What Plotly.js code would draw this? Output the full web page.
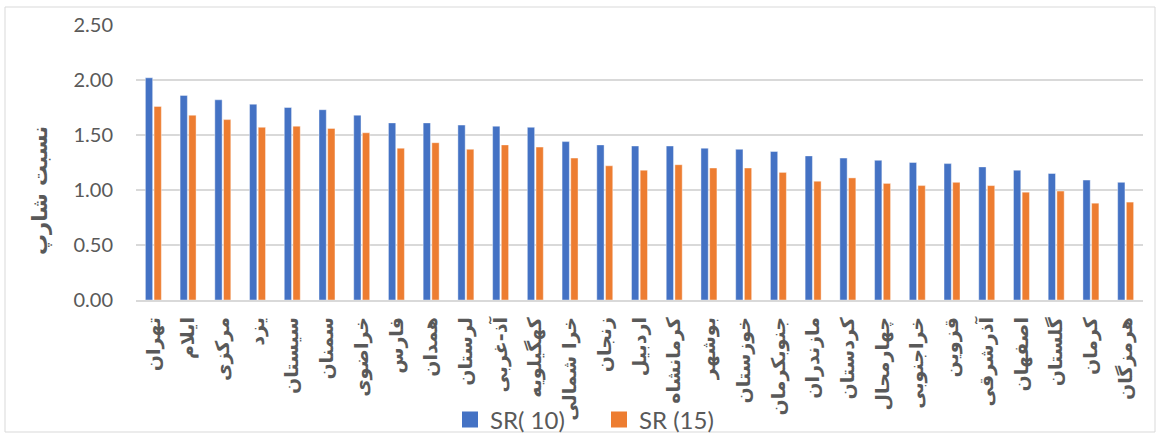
<!DOCTYPE html>
<html>
<head>
<meta charset="utf-8">
<script src="https://cdn.plot.ly/plotly-3.0.1.min.js"></script>
<style>html,body{margin:0;padding:0;background:#fff;overflow:hidden;}#chart{width:1160px;height:437px;}</style>
</head>
<body>
<div id="chart"></div>
<script>
var categories = ["تهران","ایلام","مرکزی","یزد","سیستان","سمنان","خراضوی","فارس","همدان","لرستان","آذ-غربی","کهگیلویه","خرا شمالی","زنجان","اردبیل","کرمانشاه","بوشهر","خوزستان","جنوبکرمان","مازندران","کردستان","چهارمحال","خراجنوبی","قزوین","آذرشرقی","اصفهان","گلستان","کرمان","هرمزگان"];
var sr10 = [2.02,1.86,1.82,1.78,1.75,1.73,1.68,1.61,1.61,1.59,1.58,1.57,1.44,1.41,1.40,1.40,1.38,1.37,1.35,1.31,1.29,1.27,1.25,1.24,1.21,1.18,1.15,1.09,1.07];
var sr15 = [1.76,1.68,1.64,1.57,1.58,1.56,1.52,1.38,1.43,1.37,1.41,1.39,1.29,1.22,1.18,1.23,1.20,1.20,1.16,1.08,1.11,1.06,1.04,1.07,1.04,0.98,0.99,0.88,0.89];
var seriesNames = ["SR( 10)", "SR (15)"];
var seriesColors = ["#4472C4", "#ED7D31"];
var yTicks = [0, 0.5, 1, 1.5, 2, 2.5];
var yTickText = ["0.00","0.50","1.00","1.50","2.00","2.50"];
var yTitle = "نسبت شارپ";

var W = 1160, H = 437;
var L = 136, R = 1143, T = 25, B = 300;
var pw = R - L, ph = B - T;
function px(x){ return (x - L) / pw; }
function py(y){ return (B - y) / ph; }

var barLine = {color:'rgba(255,255,255,0.7)', width:0.6};
var traces = [
  {type:'bar', x:categories, y:sr10, name:seriesNames[0], showlegend:false, marker:{color:seriesColors[0], line:barLine}},
  {type:'bar', x:categories, y:sr15, name:seriesNames[1], showlegend:false, marker:{color:seriesColors[1], line:barLine}},
  {type:'scatter', mode:'markers', x:[categories[0]], y:[null], name:seriesNames[0], showlegend:true, hoverinfo:'skip',
    marker:{symbol:'square', size:16, color:seriesColors[0]}},
  {type:'scatter', mode:'markers', x:[categories[0]], y:[null], name:seriesNames[1], showlegend:true, hoverinfo:'skip',
    marker:{symbol:'square', size:16, color:seriesColors[1]}}
];

var layout = {
  width:W, height:H,
  margin:{l:L, r:W-R, t:T, b:H-B, pad:0, autoexpand:false},
  paper_bgcolor:'#ffffff', plot_bgcolor:'#ffffff',
  barmode:'group', bargap:0.5, bargroupgap:0.16,
  showlegend:true,
  legend:{orientation:'h', xref:'container', x:450/W, xanchor:'left', yref:'container', y:(H-420)/H, yanchor:'middle',
    bgcolor:'rgba(0,0,0,0)', font:{family:'Lato, Carlito, sans-serif', size:24, color:'#595959'},
    itemwidth:30, itemsizing:'trace', entrywidth:104, tracegroupgap:0},
  font:{family:'Lato, sans-serif', color:'#595959'},
  xaxis:{type:'category', range:[-0.5, categories.length - 0.5], autorange:false, tickangle:-90, showgrid:false, showline:true, linecolor:'#d9d9d9', linewidth:1.5,
    ticks:'', tickfont:{family:'DejaVu Sans', size:19, color:'#595959', weight:'bold'}, ticklabelstandoff:8, fixedrange:true, automargin:false},
  yaxis:{range:[0,2.5], tickvals:yTicks, ticktext:yTickText, showgrid:true, gridcolor:'#d9d9d9', gridwidth:1.5,
    zeroline:false, showline:false, ticks:'', ticklabelstandoff:22, automargin:false,
    tickfont:{family:'Lato, sans-serif', size:20, color:'#595959'}, fixedrange:true},
  annotations:[{text:yTitle, xref:'paper', yref:'paper', x:px(40), y:py(191), xanchor:'center', yanchor:'middle',
    textangle:-90, showarrow:false, font:{family:'DejaVu Sans', size:21, color:'#595959', weight:'bold'}}],
  shapes:[{type:'rect', xref:'paper', yref:'paper', x0:px(5), x1:px(1155), y0:py(432), y1:py(7),
    line:{color:'#d9d9d9', width:1}, fillcolor:'rgba(0,0,0,0)', layer:'below'}]
};

Plotly.newPlot('chart', traces, layout, {displayModeBar:false, staticPlot:true});
</script>
</body>
</html>
